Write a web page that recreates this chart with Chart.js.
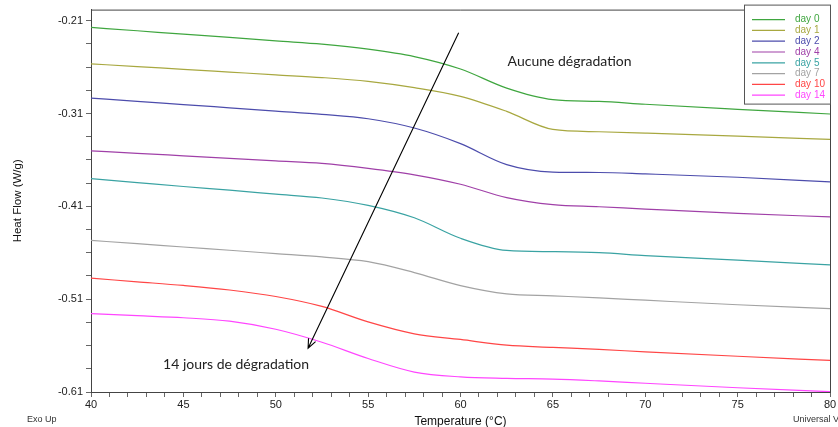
<!DOCTYPE html>
<html>
<head>
<meta charset="utf-8">
<script src="https://cdn.jsdelivr.net/npm/chart.js@4.4.1/dist/chart.umd.min.js"></script>
<style>
    html, body { margin: 0; padding: 0; background: #fff; }
    #wrap { width: 838px; height: 427px; }
</style>
</head>
<body>
<div id="wrap"><canvas id="dscChart"></canvas></div>
<script>
// data
const temperatures = [40, 42.5, 45, 47.5, 50, 52.5, 55, 57.5, 60, 62.5, 65, 67.5, 70, 75, 80];

const day0 = [-0.2172, -0.2208, -0.2245, -0.2280, -0.2318, -0.2353, -0.2406, -0.2486, -0.2620, -0.2826, -0.2950, -0.2969, -0.3000, -0.3054, -0.3105];
const day1 = [-0.2564, -0.2594, -0.2623, -0.2653, -0.2683, -0.2712, -0.2753, -0.2821, -0.2915, -0.3077, -0.3271, -0.3296, -0.3311, -0.3343, -0.3379];
const day2 = [-0.2933, -0.2969, -0.3003, -0.3038, -0.3073, -0.3108, -0.3156, -0.3256, -0.3424, -0.3650, -0.3730, -0.3735, -0.3750, -0.3786, -0.3837];
const day4 = [-0.3502, -0.3528, -0.3555, -0.3582, -0.3609, -0.3636, -0.3690, -0.3760, -0.3862, -0.4005, -0.4081, -0.4104, -0.4129, -0.4176, -0.4213];
const day5 = [-0.3802, -0.3844, -0.3886, -0.3926, -0.3968, -0.4010, -0.4089, -0.4223, -0.4444, -0.4575, -0.4588, -0.4599, -0.4630, -0.4679, -0.4731];
const day7 = [-0.4467, -0.4502, -0.4538, -0.4573, -0.4609, -0.4645, -0.4696, -0.4813, -0.4953, -0.5042, -0.5064, -0.5086, -0.5111, -0.5160, -0.5202];
const day10 = [-0.4874, -0.4913, -0.4952, -0.5001, -0.5071, -0.5178, -0.5345, -0.5473, -0.5534, -0.5596, -0.5619, -0.5641, -0.5667, -0.5715, -0.5760];
const day14 = [-0.5256, -0.5278, -0.5300, -0.5337, -0.5424, -0.5564, -0.5739, -0.5885, -0.5937, -0.5953, -0.5961, -0.5981, -0.6006, -0.6054, -0.6097];

const seriesLabels = ["day 0", "day 1", "day 2", "day 4", "day 5", "day 7", "day 10", "day 14"];
const seriesValues = [day0, day1, day2, day4, day5, day7, day10, day14];
const seriesColors = ["#3fa63f", "#a8a840", "#4c4cac", "#a040a8", "#3aa3a3", "#a3a3a3", "#ff4646", "#ff46ff"];

const yTickLabels = ["-0.61", "-0.51", "-0.41", "-0.31", "-0.21"];
const yMin = -0.61, yMax = -0.198, yMinorStep = 0.025;
const xMin = 40, xMax = 80;

// annotation arrow and texts (data coords)
const arrowStart = { x: 59.9, y: -0.2229 };
const arrowEnd = { x: 51.75, y: -0.5628 };
const noDegText = { text: "Aucune dégradation", x: 62.55, y: -0.254 };
const fullDegText = { text: "14 jours de dégradation", x: 43.9, y: -0.580 };

document.addEventListener("DOMContentLoaded", () => {
    const ctx = document.getElementById("dscChart").getContext("2d");

    const datasets = seriesLabels.map((label, i) => ({
        label: label,
        data: temperatures.map((t, j) => ({ x: t, y: seriesValues[i][j] })),
        borderColor: seriesColors[i],
        borderWidth: 1.2,
        pointRadius: 0,
        cubicInterpolationMode: "monotone",
        fill: false,
    }));

    // frame, legend box and annotations
    const extras = {
        id: "extras",
        afterDatasetsDraw(chart) {
            const c = chart.ctx;
            const area = chart.chartArea;
            const xs = chart.scales.x, ys = chart.scales.y;
            c.save();

            // plot frame (top and right)
            c.strokeStyle = "#444";
            c.lineWidth = 1;
            c.beginPath();
            c.moveTo(area.left, area.top + 0.5);
            c.lineTo(area.right + 0.5, area.top + 0.5);
            c.lineTo(area.right + 0.5, area.bottom);
            c.stroke();

            // arrow
            const x1 = xs.getPixelForValue(arrowStart.x), y1 = ys.getPixelForValue(arrowStart.y);
            const x2 = xs.getPixelForValue(arrowEnd.x), y2 = ys.getPixelForValue(arrowEnd.y);
            c.strokeStyle = "#000";
            c.lineWidth = 1.1;
            c.beginPath();
            c.moveTo(x1, y1);
            c.lineTo(x2, y2);
            const ang = Math.atan2(y2 - y1, x2 - x1);
            const head = 10;
            c.moveTo(x2 - head * Math.cos(ang - 0.4), y2 - head * Math.sin(ang - 0.4));
            c.lineTo(x2, y2);
            c.lineTo(x2 - head * Math.cos(ang + 0.4), y2 - head * Math.sin(ang + 0.4));
            c.stroke();

            // annotation texts
            c.fillStyle = "#222";
            c.font = "14px Lato, 'Open Sans', sans-serif";
            c.textBaseline = "middle";
            c.textAlign = "left";
            [noDegText, fullDegText].forEach((t) => {
                c.fillText(t.text, xs.getPixelForValue(t.x), ys.getPixelForValue(t.y));
            });

            // legend box
            const lx = area.right - 86, ly = area.top - 5;
            const lw = 86, lh = 99;
            c.fillStyle = "#fff";
            c.fillRect(lx, ly, lw, lh);
            c.strokeStyle = "#555";
            c.lineWidth = 1;
            c.strokeRect(lx + 0.5, ly + 0.5, lw, lh);
            c.font = "10px 'Liberation Sans', Arial, sans-serif";
            seriesLabels.forEach((label, i) => {
                const rowY = ly + 15 + i * 10.8;
                c.strokeStyle = seriesColors[i];
                c.lineWidth = 1.2;
                c.beginPath();
                c.moveTo(lx + 8, rowY);
                c.lineTo(lx + 41, rowY);
                c.stroke();
                c.fillStyle = seriesColors[i];
                c.fillText(label, lx + 51, rowY);
            });

            // corner notes
            c.fillStyle = "#333";
            c.font = "9px 'Liberation Sans', Arial, sans-serif";
            c.fillText("Exo Up", 27, 420);
            c.fillText("Universal V4", 793, 420);
            c.restore();
        },
    };

    new Chart(ctx, {
        type: "line",
        data: { datasets: datasets },
        plugins: [extras],
        options: {
            responsive: true,
            maintainAspectRatio: false,
            animation: false,
            layout: { padding: { top: 8, right: 8, left: 0, bottom: 0 } },
            plugins: {
                legend: { display: false },
                tooltip: { enabled: false },
            },
            scales: {
                x: {
                    type: "linear",
                    min: xMin,
                    max: xMax,
                    afterBuildTicks: (scale) => {
                        const t = [];
                        for (let v = xMin; v <= xMax; v++) t.push({ value: v });
                        scale.ticks = t;
                    },
                    afterFit: (scale) => { scale.height = 35; },
                    grid: { drawOnChartArea: false, tickLength: 5, tickColor: "#666" },
                    border: { color: "#444" },
                    ticks: {
                        autoSkip: false,
                        maxRotation: 0,
                        padding: 1,
                        color: "#222",
                        font: { family: "'Liberation Sans', Arial, sans-serif", size: 11 },
                        callback: (v) => (v % 5 === 0 ? String(v) : ""),
                    },
                    title: {
                        display: true,
                        text: "Temperature (°C)",
                        color: "#111",
                        font: { family: "'Liberation Sans', Arial, sans-serif", size: 12 },
                        padding: { top: 0, bottom: -2 },
                    },
                },
                y: {
                    min: yMin,
                    max: yMax,
                    afterBuildTicks: (scale) => {
                        const t = [];
                        for (let i = 0; i <= 16; i++) t.push({ value: yMin + i * yMinorStep });
                        scale.ticks = t;
                    },
                    afterFit: (scale) => { scale.width = 91; },
                    grid: { drawOnChartArea: false, tickLength: 5, tickColor: "#666" },
                    border: { color: "#444" },
                    ticks: {
                        autoSkip: false,
                        padding: 3,
                        color: "#222",
                        font: { family: "'Liberation Sans', Arial, sans-serif", size: 11 },
                        callback: function (v, i) {
                            return i % 4 === 0 ? yTickLabels[i / 4] : "";
                        },
                    },
                    title: {
                        display: true,
                        text: "Heat Flow (W/g)",
                        color: "#111",
                        font: { family: "'Liberation Sans', Arial, sans-serif", size: 11.5 },
                        padding: { top: 11, bottom: 0 },
                    },
                },
            },
        },
    });
});
</script>
</body>
</html>
